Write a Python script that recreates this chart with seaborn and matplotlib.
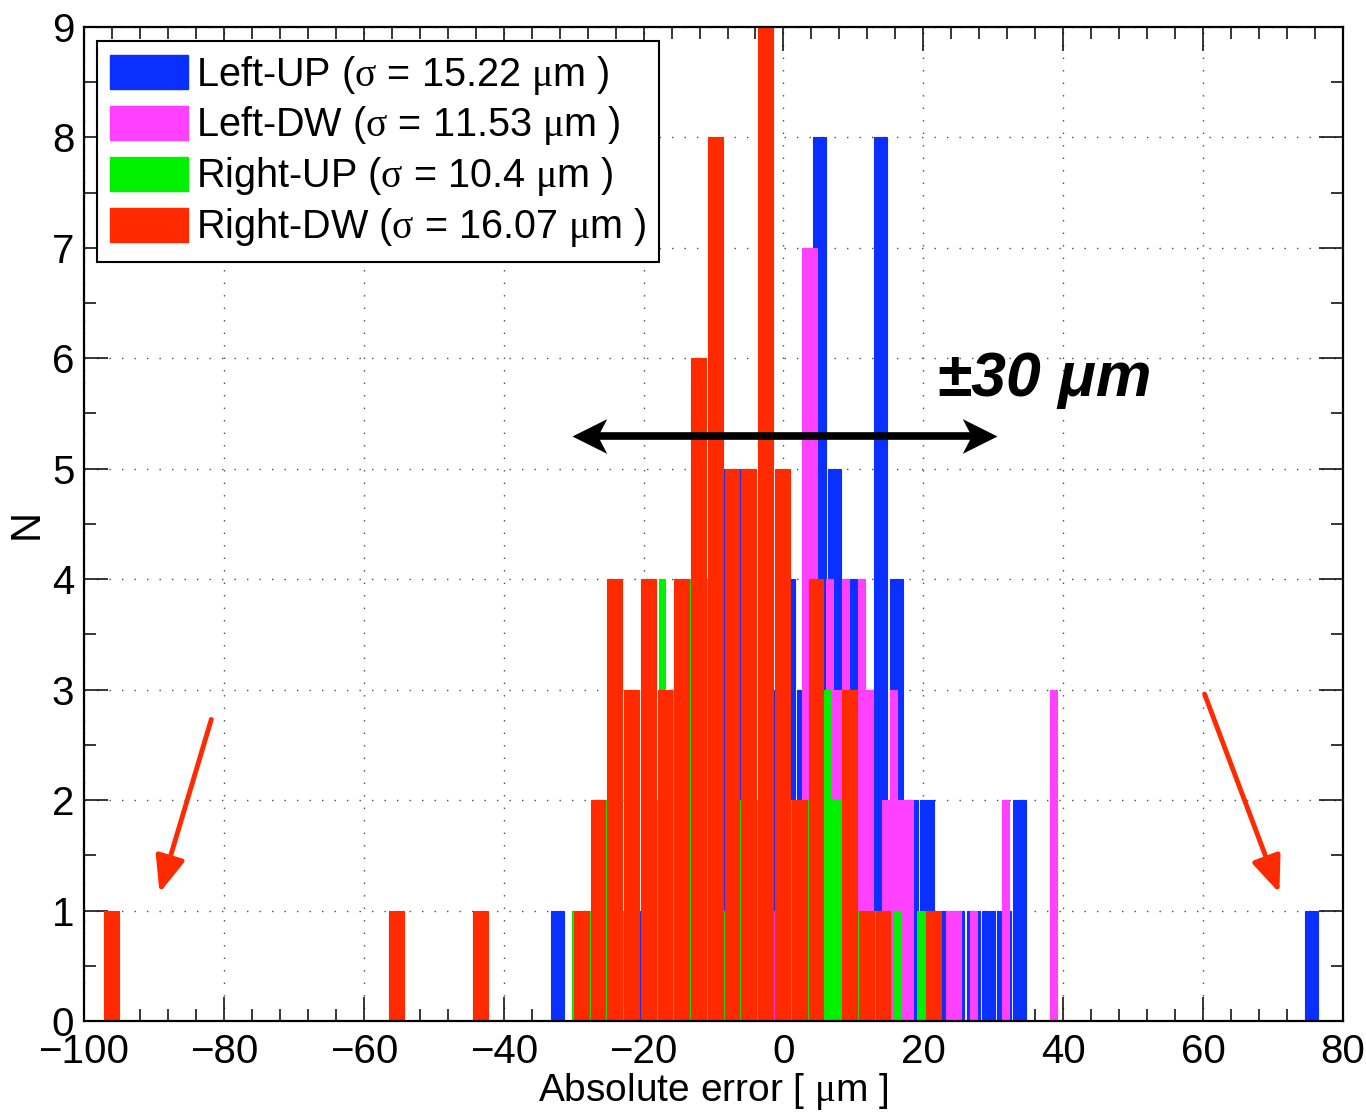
import numpy as np
import pandas as pd
import matplotlib
matplotlib.use("Agg")
import matplotlib.pyplot as plt
from matplotlib.patches import Patch
from matplotlib.path import Path
from matplotlib.ticker import MultipleLocator
import seaborn as sns

# ---- data: per-series histogram (first / last bin centre in µm, counts per bin) ----
series_names = ["Left-UP", "Left-DW", "Right-UP", "Right-DW"]
series_sigma = ["15.22", "11.53", "10.4", "16.07"]
series_colors = ["#0a30ff", "#ff40ff", "#00f200", "#ff2a00"]

left_up_range = (-32.27, 75.50)
left_up_counts = [1, 0, 0, 0, 0, 1, 1, 1, 2, 2, 3,
                  5, 5, 1, 3, 4, 3, 8, 5, 4, 3, 8, 4, 2, 2, 1, 1, 1, 1, 1, 2,
                  0, 0, 0, 0, 0, 0, 0, 0, 0, 0, 0, 0, 0, 0, 0, 0, 0, 0,
                  1]

left_dw_range = (-17.41, 38.64)
left_dw_counts = [1, 0, 0, 0, 0, 1, 0, 0, 1, 0, 2, 0, 2, 2, 1, 2, 1, 2,
                  7, 7, 3, 4, 3, 4, 2, 4, 3, 0, 2, 3, 2, 2,
                  0, 0, 0, 0, 1, 1, 0, 1, 0, 0, 0, 2, 0, 0, 0, 0, 0,
                  3]

right_up_range = (-29.70, 20.745)
right_up_counts = [1, 1, 1, 2, 2, 2, 1, 2, 0, 3, 2, 4, 3, 3, 3, 4, 4, 4,
                   3, 1, 2, 2, 2, 0, 3, 0, 2, 2, 2, 1, 2, 3, 3, 2, 2, 2,
                   1, 1, 1, 1, 0, 1, 0, 0, 1, 1]

right_dw_range = (-96.07, 21.43)
right_dw_counts = [1, 0, 0, 0, 0, 0, 0, 0, 0, 0, 0, 0, 0, 0, 0, 0, 0,
                   1, 0, 0, 0, 0, 1, 0, 0, 0, 0, 0,
                   1, 2, 4, 3, 4, 3, 4, 6, 8, 5, 5, 9, 5, 2, 4, 0, 3, 1, 1, 0, 0, 1]

series_ranges = [left_up_range, left_dw_range, right_up_range, right_dw_range]
series_counts = [left_up_counts, left_dw_counts, right_up_counts, right_dw_counts]
series_shrink = [0.86, 0.85, 0.85, 0.88]

x_ticks = [-100, -80, -60, -40, -20, 0, 20, 40, 60, 80]
y_ticks = list(range(10))

# ---- style ----
sns.set_theme(style="ticks")
plt.rcParams["font.family"] = ["Liberation Sans", "DejaVu Sans"]
plt.rcParams["mathtext.fontset"] = "custom"
plt.rcParams["mathtext.rm"] = "Liberation Serif"
plt.rcParams["mathtext.it"] = "Liberation Serif"
plt.rcParams["axes.unicode_minus"] = True
for key in ["text.color", "axes.labelcolor", "xtick.color", "ytick.color",
            "xtick.labelcolor", "ytick.labelcolor"]:
    plt.rcParams[key] = "black"

fig = plt.figure(figsize=(13.66, 11.13), dpi=100)
ax = fig.add_axes([0.0615, 0.0827, 0.9217, 0.8931])

for rng, counts, color, shrink in zip(series_ranges, series_counts,
                                       series_colors, series_shrink):
    n = len(counts)
    centres = np.linspace(rng[0], rng[1], n)
    width = (rng[1] - rng[0]) / (n - 1)
    edges = np.linspace(rng[0] - width / 2, rng[1] + width / 2, n + 1).tolist()
    df = pd.DataFrame({"err": centres, "n": counts})
    sns.histplot(data=df, x="err", weights="n", bins=edges, shrink=shrink,
                 color=color, edgecolor=color, linewidth=0.8, alpha=1.0,
                 ax=ax, zorder=3)

ax.set_xlim(-100, 80)
ax.set_ylim(0, 9)
ax.set_xticks(x_ticks)
ax.set_yticks(y_ticks)
ax.xaxis.set_minor_locator(MultipleLocator(4))
ax.yaxis.set_minor_locator(MultipleLocator(0.5))
ax.tick_params(which="major", direction="in", length=17, width=1.1,
               top=True, right=True, labelsize=29, pad=7, color="black")
ax.tick_params(which="minor", direction="in", length=8.5, width=1.1,
               top=True, right=True, color="black")
ax.tick_params(axis="x", which="major", pad=9)
ax.set_axisbelow(True)
ax.grid(True, which="major", linestyle=(0, (1, 8)), color="0.3", linewidth=1.0)
for sp in ax.spines.values():
    sp.set_linewidth(1.6)
    sp.set_color("black")
    sp.set_zorder(4)

ax.set_xlabel(r"Absolute error [ $\mu$m ]", fontsize=28, labelpad=0)
ax.set_ylabel("N", fontsize=30, labelpad=4)

# legend
handles = [Patch(facecolor=c, edgecolor=c) for c in series_colors]
labels = [f"{nm} ($\\sigma$ = {sg} $\\mu$m )" for nm, sg in zip(series_names, series_sigma)]
leg = ax.legend(handles, labels, loc="upper left", bbox_to_anchor=(0.0103, 0.986),
                borderaxespad=0, fontsize=28.5, frameon=True, fancybox=False,
                edgecolor="black", framealpha=1, handlelength=1.98, handleheight=0.95,
                handletextpad=0.2, labelspacing=0.2, borderpad=0.32)
leg.get_frame().set_linewidth(1.5)
leg.set_zorder(6)

# ±30 µm window: shaft plus notched arrow heads
head_right = Path([(0, 0), (-1, 0.5), (-0.74, 0), (-1, -0.5), (0, 0)],
                  [Path.MOVETO, Path.LINETO, Path.LINETO, Path.LINETO, Path.CLOSEPOLY])
head_left = Path([(0, 0), (1, 0.5), (0.74, 0), (1, -0.5), (0, 0)],
                 [Path.MOVETO, Path.LINETO, Path.LINETO, Path.LINETO, Path.CLOSEPOLY])
win_lo, win_hi, win_y = -30.3, 30.5, 5.3
ax.plot([win_lo + 2.0, win_hi - 2.0], [win_y, win_y], color="black", lw=5.5,
        solid_capstyle="butt", zorder=7)
ax.plot([win_hi], [win_y], marker=head_right, markersize=50, color="black",
        markeredgewidth=0, linestyle="none", zorder=7)
ax.plot([win_lo], [win_y], marker=head_left, markersize=50, color="black",
        markeredgewidth=0, linestyle="none", zorder=7)
ax.text(22.0, 5.66, "±30 μm", fontsize=45, fontweight="bold", fontstyle="italic",
        ha="left", va="baseline", zorder=7)

# outlier markers
red = "#ff2a00"
for tail, tip in [((-81.8, 2.73), (-89.2, 1.16)), ((60.2, 2.96), (70.9, 1.16))]:
    ax.annotate("", xy=tip, xytext=tail,
                arrowprops=dict(arrowstyle="-|>,head_length=1.1,head_width=0.45",
                                lw=3.5, color=red, mutation_scale=20,
                                shrinkA=0, shrinkB=0), zorder=7)

fig.savefig("out.png", dpi=100)
